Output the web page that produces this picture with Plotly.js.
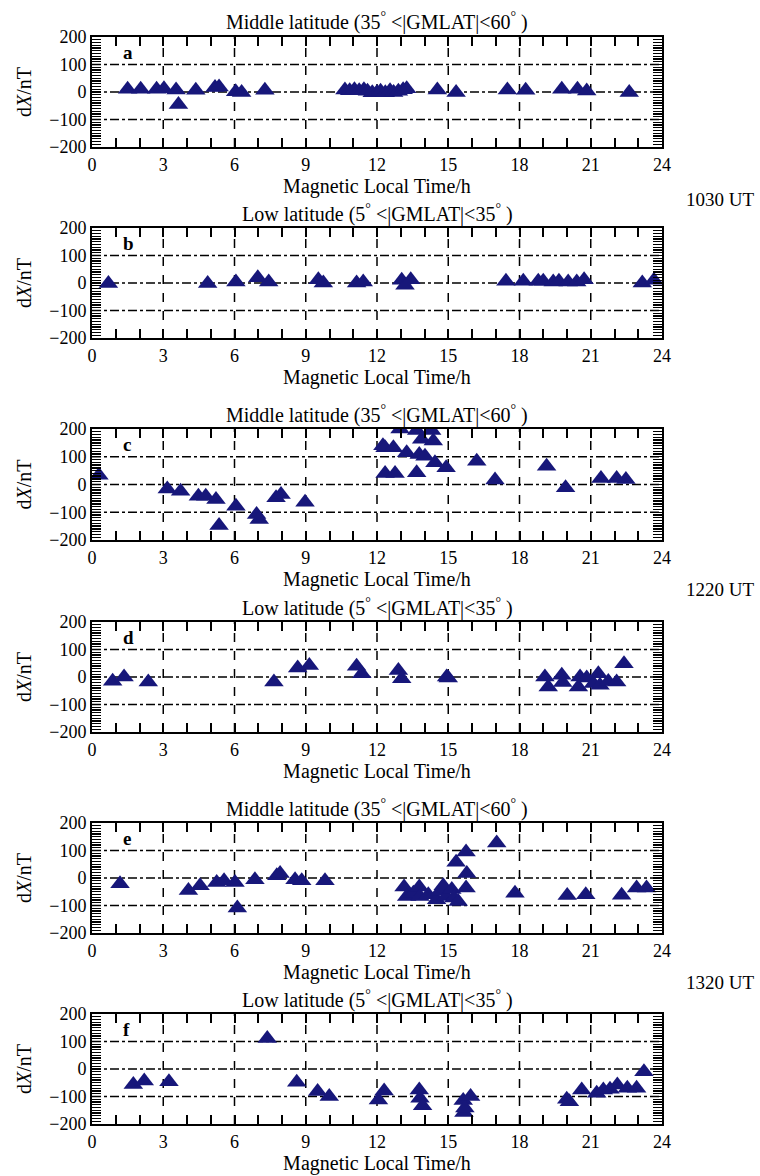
<!DOCTYPE html>
<html><head><meta charset="utf-8">
<script src="https://cdn.plot.ly/plotly-3.0.1.min.js"></script>
<style>html,body{margin:0;padding:0;background:#fff}#chart{width:760px;height:1176px}</style>
</head><body><div id="chart"></div>
<script>
// ---- data: Magnetic Local Time (h) and dX (nT) per panel ----
const panelLetters = ["a","b","c","d","e","f"];
const panelTitles = [
  "Middle latitude (35<sup>°</sup> &lt;|GMLAT|&lt;60<sup>°</sup> )",
  "Low latitude (5<sup>°</sup> &lt;|GMLAT|&lt;35<sup>°</sup> )",
  "Middle latitude (35<sup>°</sup> &lt;|GMLAT|&lt;60<sup>°</sup> )",
  "Low latitude (5<sup>°</sup> &lt;|GMLAT|&lt;35<sup>°</sup> )",
  "Middle latitude (35<sup>°</sup> &lt;|GMLAT|&lt;60<sup>°</sup> )",
  "Low latitude (5<sup>°</sup> &lt;|GMLAT|&lt;35<sup>°</sup> )"
];
const utLabels = ["1030 UT","1220 UT","1320 UT"];
const xTickVals = [0,3,6,9,12,15,18,21,24];
const yTickVals = [-200,-100,0,100,200];

const mltA = [1.50,2.05,2.72,3.03,3.54,3.64,4.37,5.18,5.35,6.05,6.30,7.28,
  10.65,10.85,11.05,11.25,11.45,11.60,11.80,12.00,12.15,12.35,12.55,12.70,12.90,13.10,13.25,
  14.54,15.33,17.49,18.26,19.78,20.44,20.83,22.62];
const dxA = [10,10,10,12,7,-45,6,16,18,1,-2,6,
  7,5,8,5,8,3,-3,-2,3,-3,5,-2,3,8,12,
  7,-2,7,6,10,10,4,-2];

const mltB = [0.69,4.87,6.06,6.98,7.44,9.53,9.74,11.14,11.42,13.04,13.18,13.42,
  17.43,18.16,18.79,19.00,19.42,19.66,20.05,20.41,20.72,23.17,23.66];
const dxB = [-2,-2,4,19,4,12,0,0,4,10,-8,12,
  6,6,6,6,4,6,4,4,12,0,10];

const mltC = [0.29,3.17,3.73,4.48,4.79,5.22,5.35,6.06,6.93,7.04,7.75,7.96,8.97,
  12.25,12.34,12.69,12.34,12.76,12.97,13.25,13.67,13.67,13.78,13.88,14.02,14.30,14.37,14.44,14.91,
  16.20,16.97,19.14,19.94,21.43,22.09,22.48];
const dxC = [33,-16,-24,-42,-42,-54,-148,-78,-108,-126,-48,-36,-64,
  140,132,132,40,40,200,114,195,42,108,163,102,195,157,78,60,
  84,16,66,-12,22,22,18];

const mltD = [0.87,1.35,2.37,7.66,8.66,9.15,11.14,11.36,12.90,13.04,14.93,15.00,
  19.07,19.21,19.78,19.82,20.48,20.55,20.83,21.11,21.32,21.39,21.74,22.09,22.40];
const dxD = [-15,0,-18,-18,33,42,39,12,24,-6,0,-4,
  0,-36,6,-20,-36,0,-4,-24,12,-30,-16,-18,48];

const mltE = [1.18,4.06,4.55,5.25,5.56,6.02,6.12,6.86,7.78,7.92,8.55,8.83,9.81,
  13.14,13.25,13.53,13.78,13.81,14.16,14.51,14.65,14.79,14.91,15.15,15.24,15.42,
  15.33,15.75,15.78,15.75,17.04,17.81,20.01,20.79,22.30,22.93,23.35];
const dxE = [-21,-45,-28,-16,-10,-16,-109,-6,8,16,-6,-10,-10,
  -33,-67,-55,-33,-67,-61,-79,-48,-28,-67,-42,-73,-85,
  57,95,16,-36,127,-55,-64,-61,-63,-36,-36];

const mltF = [1.74,2.20,3.24,7.38,8.62,9.50,9.99,12.06,12.30,
  13.78,13.81,13.92,15.63,15.66,15.70,15.94,
  19.99,20.10,20.62,21.25,21.53,21.81,22.12,22.54,22.93,23.24];
const dxF = [-56,-44,-46,111,-48,-82,-100,-113,-80,
  -76,-106,-134,-115,-158,-142,-100,
  -110,-119,-76,-88,-76,-74,-58,-70,-70,-10];

const mltAll = [mltA,mltB,mltC,mltD,mltE,mltF];
const dxAll = [dxA,dxB,dxC,dxD,dxE,dxF];

// ---- layout geometry (pixel tops/bottoms of each plot area) ----
const H = 1176;
const plotTop = [37,228,429,622,823,1014];
const plotBot = [147,338,540,732,933,1124];
const utY = [200,590,982];
const NAVY = "#17177a";
const FONT = "Liberation Serif";

// fine tick positions (1 h on x, 10 nT on y); labels only at the tick-label values
const xMin = xTickVals[0], xMax = xTickVals[xTickVals.length-1];
const yMin = yTickVals[0], yMax = yTickVals[yTickVals.length-1];
const xFine = []; for (let v=xMin; v<=xMax; v+=1) xFine.push(v);
const yFine = []; for (let v=yMin; v<=yMax; v+=10) yFine.push(v);
const xFineText = xFine.map(v => xTickVals.includes(v) ? String(v) : "");
const yFineText = yFine.map(v => yTickVals.includes(v) ? (v<0 ? "\u2212"+(-v) : String(v)) : "");
const xGrid = xTickVals.slice(1,-1);
const yGrid = yTickVals.slice(1,-1);

const traces = [];
const layout = {
  width:760, height:1176,
  margin:{l:92,r:98,t:0,b:0},
  paper_bgcolor:"#fff", plot_bgcolor:"#fff",
  showlegend:false,
  font:{family:FONT,size:18,color:"#000"},
  annotations:[], shapes:[]
};

for (let i=0;i<6;i++){
  const xa = i===0 ? "x" : "x"+(i+1);
  const ya = i===0 ? "y" : "y"+(i+1);
  const xk = i===0 ? "xaxis" : "xaxis"+(i+1);
  const yk = i===0 ? "yaxis" : "yaxis"+(i+1);
  traces.push({
    type:"scatter", mode:"markers", x:mltAll[i], y:dxAll[i], xaxis:xa, yaxis:ya,
    marker:{symbol:"triangle-up", size:17, color:NAVY, line:{width:0}},
    cliponaxis:true, hoverinfo:"x+y"
  });
  layout[xk] = {
    domain:[0,1], anchor:ya, range:[xMin,xMax],
    tickmode:"array", tickvals:xFine, ticktext:xFineText,
    ticks:"inside", ticklen:9, tickwidth:2, tickcolor:"#000",
    showline:true, linecolor:"#000", linewidth:2, mirror:"allticks",
    showgrid:false, zeroline:false, tickfont:{family:FONT,size:18},
    title:{text:"Magnetic Local Time/h", font:{family:FONT,size:20}, standoff:4},
    fixedrange:true
  };
  layout[yk] = {
    domain:[1-plotBot[i]/H, 1-plotTop[i]/H], anchor:xa, range:[yMin,yMax],
    tickmode:"array", tickvals:yFine, ticktext:yFineText,
    ticks:"inside", ticklen:9, tickwidth:1.4, tickcolor:"#000",
    showline:true, linecolor:"#000", linewidth:2, mirror:"allticks",
    showgrid:false, zeroline:false, tickfont:{family:FONT,size:18},
    title:{text:"d<i>X</i>/nT", font:{family:FONT,size:20}, standoff:12},
    fixedrange:true
  };
  // grid lines at the labelled tick values
  xGrid.forEach(v => layout.shapes.push({
    type:"line", layer:"below", xref:xa, yref:ya+" domain", x0:v, x1:v, y0:0, y1:1,
    line:{color:"#000", width:1.5, dash:"dash"}
  }));
  yGrid.forEach(v => layout.shapes.push({
    type:"line", layer:"below", xref:xa+" domain", yref:ya, x0:0, x1:1, y0:v, y1:v,
    line:{color:"#000", width:1.5, dash:"dashdot"}
  }));
  layout.annotations.push({
    xref:"paper", yref:"paper", x:0.5, y:1-(plotTop[i]-15)/H,
    xanchor:"center", yanchor:"middle", showarrow:false,
    text:panelTitles[i], font:{family:FONT,size:20,color:"#000"}
  });
  layout.annotations.push({
    xref:xa+" domain", yref:ya+" domain", x:0.05, y:0.86,
    xanchor:"left", yanchor:"middle", showarrow:false,
    text:"<b>"+panelLetters[i]+"</b>", font:{family:FONT,size:19,color:"#000"}
  });
}
for (let k=0;k<3;k++){
  layout.annotations.push({
    xref:"paper", yref:"paper", x:1, xanchor:"left", xshift:22, y:1-utY[k]/H,
    yanchor:"middle", showarrow:false, text:utLabels[k],
    font:{family:FONT,size:19,color:"#000"}
  });
}
Plotly.newPlot("chart", traces, layout, {displayModeBar:false, staticPlot:true});
</script></body></html>
